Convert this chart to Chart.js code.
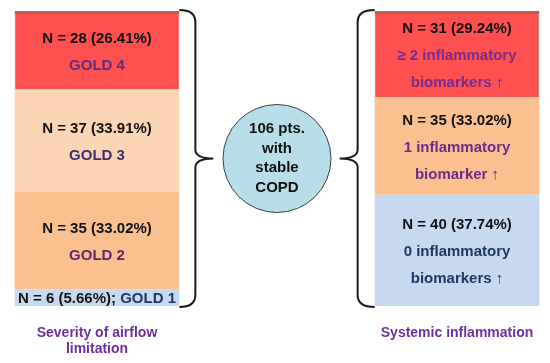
<!DOCTYPE html>
<html>
<head>
<meta charset="utf-8">
<script src="https://cdn.jsdelivr.net/npm/chart.js@4.4.0/dist/chart.umd.min.js"></script>
<style>
  html, body { margin: 0; padding: 0; background: #fff; }
  #wrap { width: 550px; height: 363px; }
</style>
</head>
<body>
<div id="wrap"><canvas id="copdChart"></canvas></div>
<script>
// data
var groups = [['Severity of airflow', 'limitation'], '', 'Systemic inflammation'];
var totalPts = 106;

var goldLabels = ['GOLD 1', 'GOLD 2', 'GOLD 3', 'GOLD 4'];
var goldCounts = [6, 35, 37, 28];
var goldPct = ['5.66%', '33.02%', '33.91%', '26.41%'];

var inflLabels = [['0 inflammatory', 'biomarkers \u2191'], ['1 inflammatory', 'biomarker \u2191'], ['\u2265 2 inflammatory', 'biomarkers \u2191']];
var inflCounts = [40, 35, 31];
var inflPct = ['37.74%', '33.02%', '29.24%'];

var centerText = ['106 pts.', 'with', 'stable', 'COPD'];

// styles
var goldColors = ['#C6D9F1', '#FAC090', '#FCD5B5', '#FF5050'];
var goldTextColors = ['#1F3864', '#5A2A6E', '#3D2E6E', '#5F2C82'];
var inflColors = ['#C6D9F1', '#FAC090', '#FF5050'];
var inflTextColors = ['#1F3864', '#6B2C8A', '#7A2C8A'];
var fontFam = '"Liberation Sans", Arial, sans-serif';

function segBorder(color) {
    // the red top segments have a thin brownish rim
    return color === '#FF5050' ? { top: 3, left: 1, right: 1, bottom: 0 } : 0;
}

var datasets = [];
goldCounts.forEach(function(v, i) {
    datasets.push({
        label: goldLabels[i],
        data: [v, null, null],
        backgroundColor: goldColors[i],
        borderColor: '#B8604F',
        borderWidth: segBorder(goldColors[i]),
        borderSkipped: false,
        stack: 's',
        side: 'gold',
        idx: i
    });
});
inflCounts.forEach(function(v, i) {
    datasets.push({
        label: inflLabels[i].join(' '),
        data: [null, null, v],
        backgroundColor: inflColors[i],
        borderColor: '#B8604F',
        borderWidth: segBorder(inflColors[i]),
        borderSkipped: false,
        stack: 's',
        side: 'infl',
        idx: i
    });
});

function drawBrace(ctx, xEdge, xLine, xTip, top, bottom) {
    var mid = (top + bottom) / 2;
    ctx.beginPath();
    ctx.moveTo(xEdge, top);
    ctx.quadraticCurveTo(xLine, top, xLine, top + 12);
    ctx.lineTo(xLine, mid - 9);
    ctx.quadraticCurveTo(xLine, mid, xTip, mid);
    ctx.quadraticCurveTo(xLine, mid, xLine, mid + 9);
    ctx.lineTo(xLine, bottom - 12);
    ctx.quadraticCurveTo(xLine, bottom, xEdge, bottom);
    ctx.stroke();
}

var overlay = {
    id: 'overlay',
    afterDatasetsDraw: function(chart) {
        var ctx = chart.ctx;
        var area = chart.chartArea;
        var xs = chart.scales.x;
        ctx.save();
        ctx.textAlign = 'center';
        ctx.textBaseline = 'middle';
        ctx.font = 'bold 15px ' + fontFam;

        chart.data.datasets.forEach(function(ds, d) {
            var meta = chart.getDatasetMeta(d);
            var col = ds.side === 'gold' ? 0 : 2;
            var bar = meta.data[col];
            var cy = (bar.y + bar.base) / 2;
            var nTxt, lines, color;
            if (ds.side === 'gold') {
                nTxt = 'N = ' + goldCounts[ds.idx] + ' (' + goldPct[ds.idx] + ')';
                color = goldTextColors[ds.idx];
                if (ds.idx === 0) {
                    var a = nTxt + '; ';
                    var b = goldLabels[0];
                    var wa = ctx.measureText(a).width;
                    var wb = ctx.measureText(b).width;
                    var x0 = bar.x - (wa + wb) / 2;
                    ctx.textAlign = 'left';
                    ctx.fillStyle = '#111';
                    ctx.fillText(a, x0, cy + 1);
                    ctx.fillStyle = color;
                    ctx.fillText(b, x0 + wa, cy + 1);
                    ctx.textAlign = 'center';
                    return;
                }
                lines = [nTxt, goldLabels[ds.idx]];
            } else {
                nTxt = 'N = ' + inflCounts[ds.idx] + ' (' + inflPct[ds.idx] + ')';
                color = inflTextColors[ds.idx];
                lines = [nTxt].concat(inflLabels[ds.idx]);
            }
            var lh = 27;
            var y0 = cy + 2 - (lines.length - 1) * lh / 2;
            lines.forEach(function(t, k) {
                ctx.fillStyle = k === 0 ? '#111' : color;
                ctx.fillText(t, bar.x, y0 + k * lh);
            });
        });

        // braces
        var leftBar = chart.getDatasetMeta(0).data[0];
        var rightBar = chart.getDatasetMeta(goldCounts.length).data[2];
        var top = area.top - 1;
        var bottom = area.bottom + 1;
        ctx.strokeStyle = '#1a1a1a';
        ctx.lineWidth = 2;
        var le = leftBar.x + leftBar.width / 2;
        drawBrace(ctx, le, le + 16, le + 34, top, bottom);
        var re = rightBar.x - rightBar.width / 2;
        drawBrace(ctx, re, re - 17, re - 35, top, bottom);

        // centre circle
        var cx = xs.getPixelForValue(1);
        var cyc = (area.top + area.bottom) / 2;
        ctx.beginPath();
        ctx.arc(cx, cyc, 54, 0, Math.PI * 2);
        ctx.fillStyle = '#B7DEE8';
        ctx.fill();
        ctx.lineWidth = 1;
        ctx.strokeStyle = '#404040';
        ctx.stroke();
        ctx.fillStyle = '#111';
        ctx.font = 'bold 15px ' + fontFam;
        var clh = 19.5;
        var cy0 = cyc - (centerText.length - 1) * clh / 2;
        centerText.forEach(function(t, k) {
            ctx.fillText(t, cx, cy0 + k * clh);
        });
        ctx.restore();
    }
};

var ctx = document.getElementById('copdChart').getContext('2d');
var copdChart = new Chart(ctx, {
    type: 'bar',
    data: {
        labels: groups,
        datasets: datasets
    },
    options: {
        responsive: true,
        maintainAspectRatio: false,
        animation: false,
        barPercentage: 1,
        categoryPercentage: 0.915,
        layout: {
            padding: { top: 11, left: 7, right: 3, bottom: 0 }
        },
        plugins: {
            legend: { display: false },
            tooltip: { enabled: false },
            title: { display: false }
        },
        scales: {
            x: {
                stacked: true,
                grid: { display: false },
                border: { display: false },
                afterFit: function(scale) {
                    scale.height = 57;
                },
                ticks: {
                    color: '#7030A0',
                    padding: 11,
                    font: { family: fontFam, size: 14, weight: 'bold', lineHeight: 1.15 }
                }
            },
            y: {
                stacked: true,
                display: false,
                min: 0,
                max: totalPts
            }
        }
    },
    plugins: [overlay]
});
</script>
</body>
</html>
